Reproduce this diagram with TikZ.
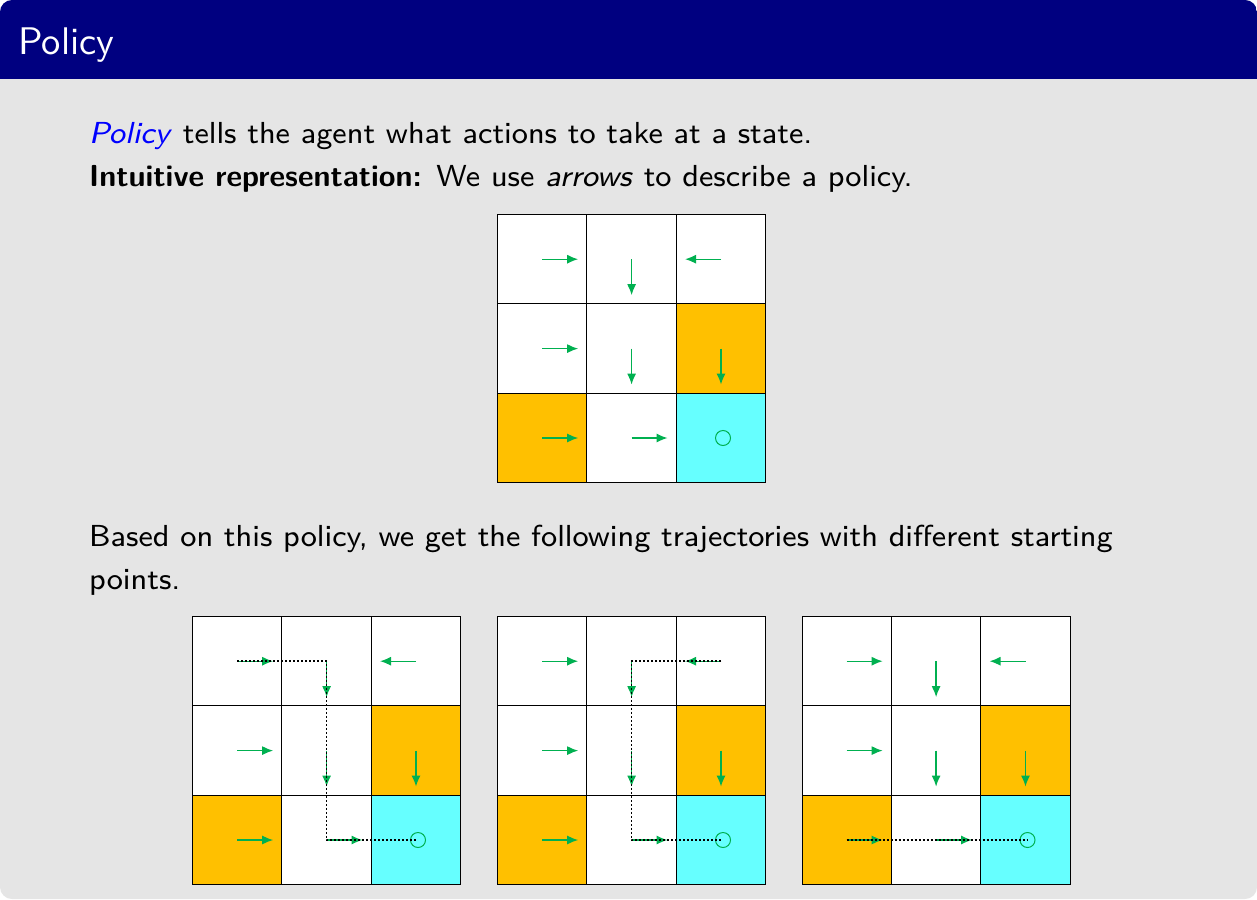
\documentclass[tikz,border=0pt]{standalone}
\usepackage{fontspec}
\setsansfont{lmsans8-regular.otf}[ItalicFont=lmsans8-oblique.otf, BoldFont=lmsans10-bold.otf, BoldItalicFont=lmsans10-boldoblique.otf]
\newfontfamily\titlefont{lmsans10-regular.otf}
\usetikzlibrary{arrows.meta}
\definecolor{slidebg}{HTML}{E5E5E5}
\definecolor{titlebg}{HTML}{000080}
\definecolor{pgreen}{HTML}{00B050}
\definecolor{porange}{HTML}{FFC000}
\definecolor{pcyan}{HTML}{66FFFF}
\tikzset{
  cell/.style={draw=black, line width=0.9pt, minimum size=89.4pt, inner sep=0pt, outer sep=0pt},
  pol/.style={draw=pgreen, line width=1.4pt, -{Latex[length=11pt,width=9pt]}},
  goal/.style={circle, draw=pgreen, line width=1pt, minimum size=15pt, inner sep=0pt},
  traj/.style={draw=black, line width=1.5pt, dash pattern=on 2pt off 2pt},
  txt/.style={anchor=base west, inner sep=0pt, font=\fontsize{30.4}{43}\selectfont\sffamily},
}
\newcommand{\gridworld}[3]{%
  \foreach \c/\r/\f in {0/0/white,1/0/white,2/0/white,0/1/white,1/1/white,2/1/porange,0/2/porange,1/2/white,2/2/pcyan}{
    \node[cell, fill=\f] (#3-\c-\r) at ({#1+(\c+0.5)*89.4},{#2+(\r+0.5)*89.4}) {};
  }
  \foreach \c/\r/\dx/\dy in {0/0/36/0,1/0/0/36,2/0/-36/0,0/1/36/0,1/1/0/36,2/1/0/36,0/2/36/0,1/2/36/0}{
    \draw[pol] (#3-\c-\r.center) -- ++(\dx,\dy);
  }
  \node[goal] (#3-goal) at ([xshift=2pt]#3-2-2.center) {};
}
\begin{document}
\begin{tikzpicture}[x=1pt,y=-1pt]
\useasboundingbox (0,0) rectangle (1257,899);
\fill[white] (0,0) rectangle (1257,899);
\fill[slidebg, rounded corners=12pt] (0,0) rectangle (1257,899);
\begin{scope}
  \clip[rounded corners=12pt] (0,0) rectangle (1257,899);
  \fill[titlebg] (0,0) rectangle (1257,78.5);
\end{scope}
\node[anchor=base west, inner sep=0pt, text=white, font=\fontsize{38.5}{46}\selectfont\titlefont] (title) at (18,55) {Policy};

\node[txt] (l1) at (89,143) {\textcolor{blue}{\textit{Policy}} tells the agent what actions to take at a state.};
\node[txt] (l2) at (89,186) {\textbf{Intuitive representation:} We use \textit{arrows} to describe a policy.};
\node[txt] (l3) at (89,546) {Based on this policy, we get the following trajectories with different starting};
\node[txt] (l4) at (89,589) {points.};

\gridworld{497.5}{214.5}{g0}
\gridworld{192.5}{616.5}{g1}
\gridworld{497.5}{616.5}{g2}
\gridworld{802}{616.5}{g3}

\draw[traj] (g1-0-0.center) -- (g1-1-0.center) -- (g1-1-2.center) -- (g1-goal.center);
\draw[traj] (g2-2-0.center) -- (g2-1-0.center) -- (g2-1-2.center) -- (g2-goal.center);
\draw[traj] (g3-0-2.center) -- (g3-goal.center);
\end{tikzpicture}
\end{document}
